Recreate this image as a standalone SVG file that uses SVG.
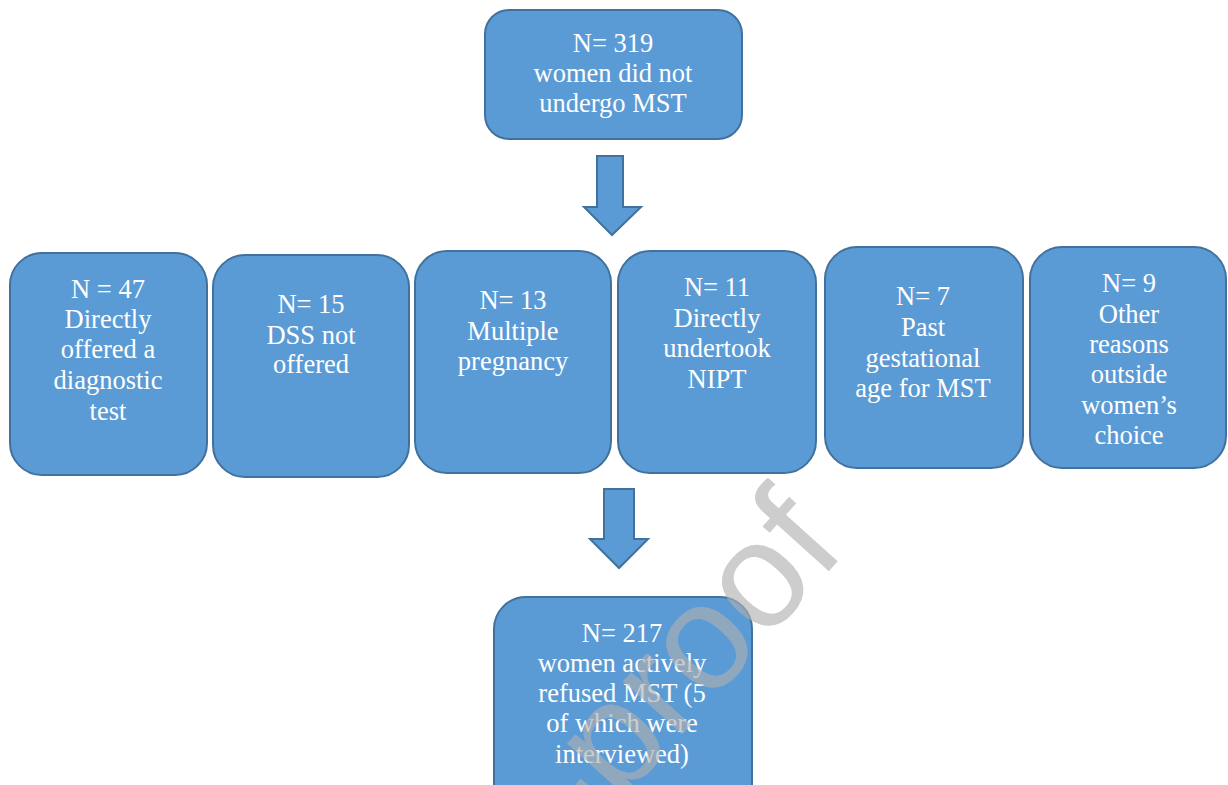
<svg xmlns="http://www.w3.org/2000/svg" width="1228" height="785" viewBox="0 0 1228 785">
<style>
.box{fill:#5B9BD5;stroke:#41719C;stroke-width:2}
.arrow{fill:#5B9BD5;stroke:#41719C;stroke-width:2;stroke-linejoin:miter}
.t{font-family:"Liberation Serif","Times New Roman",serif;font-size:26.5px;fill:#ffffff;text-anchor:middle}
.wm{font-family:"Liberation Sans",Arial,sans-serif;font-size:150px;fill:#b0b0b0;fill-opacity:0.63}
</style>
<rect width="1228" height="785" fill="#ffffff"/>
<g id="node-top">
<rect class="box" x="485" y="10" width="257" height="129" rx="24"/>
<text class="t" x="613" y="52">N= 319</text>
<text class="t" x="613" y="82">women did not</text>
<text class="t" x="613" y="112">undergo MST</text>
</g>
<g id="node-47">
<rect class="box" x="10" y="253" width="197" height="222" rx="32"/>
<text class="t" x="108" y="298">N = 47</text>
<text class="t" x="108" y="328">Directly</text>
<text class="t" x="108" y="358">offered a</text>
<text class="t" x="108" y="389">diagnostic</text>
<text class="t" x="108" y="420">test</text>
</g>
<g id="node-15">
<rect class="box" x="213" y="255" width="196" height="222" rx="32"/>
<text class="t" x="311" y="313">N= 15</text>
<text class="t" x="311" y="344">DSS not</text>
<text class="t" x="311" y="373">offered</text>
</g>
<g id="node-13">
<rect class="box" x="415" y="251" width="196" height="222" rx="32"/>
<text class="t" x="513" y="309">N= 13</text>
<text class="t" x="513" y="340">Multiple</text>
<text class="t" x="513" y="370">pregnancy</text>
</g>
<g id="node-11">
<rect class="box" x="618" y="251" width="198" height="222" rx="32"/>
<text class="t" x="717" y="296">N= 11</text>
<text class="t" x="717" y="327">Directly</text>
<text class="t" x="717" y="357">undertook</text>
<text class="t" x="717" y="388">NIPT</text>
</g>
<g id="node-7">
<rect class="box" x="825" y="247" width="198" height="221" rx="32"/>
<text class="t" x="923" y="305">N= 7</text>
<text class="t" x="923" y="336">Past</text>
<text class="t" x="923" y="367">gestational</text>
<text class="t" x="923" y="397">age for MST</text>
</g>
<g id="node-9">
<rect class="box" x="1030" y="247" width="196" height="221" rx="32"/>
<text class="t" x="1129" y="292">N= 9</text>
<text class="t" x="1129" y="323">Other</text>
<text class="t" x="1129" y="353">reasons</text>
<text class="t" x="1129" y="383">outside</text>
<text class="t" x="1129" y="414">women’s</text>
<text class="t" x="1129" y="444">choice</text>
</g>
<g id="node-217">
<rect class="box" x="494" y="597" width="258" height="230" rx="32"/>
<text class="t" x="622" y="642">N= 217</text>
<text class="t" x="622" y="672">women actively</text>
<text class="t" x="622" y="702">refused MST (5</text>
<text class="t" x="622" y="732">of which were</text>
<text class="t" x="622" y="763">interviewed)</text>
</g>
<g id="connectors">
<path class="arrow" d="M597 156 H623 V207 H641 L612 235 L584 207 H597 Z"/>
<path class="arrow" d="M604 489 H634 V539 H648 L619 568 L590 539 H604 Z"/>
</g>
<text class="wm" transform="translate(848 550) rotate(-48)" text-anchor="end">Journal Pre-proof</text>
</svg>
